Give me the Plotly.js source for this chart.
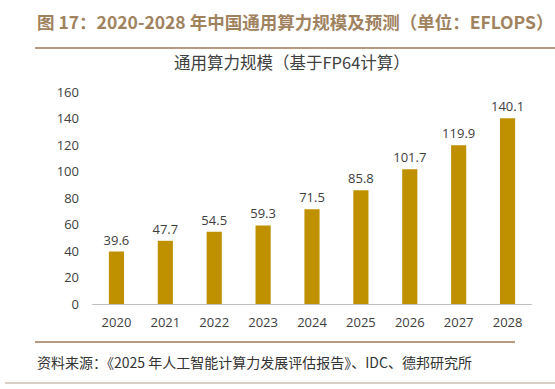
<!DOCTYPE html>
<html><head><meta charset="utf-8">
<script src="https://cdn.plot.ly/plotly-3.0.1.min.js"></script>
<style>html,body{margin:0;padding:0;background:#fff;}#c{width:555px;height:389px;}</style>
</head><body><div id="c"></div>
<script>
const years = ["2020","2021","2022","2023","2024","2025","2026","2027","2028"];
const values = [39.6, 47.7, 54.5, 59.3, 71.5, 85.8, 101.7, 119.9, 140.1];
const yTicks = [0,20,40,60,80,100,120,140,160];

const W=555,H=389, L=92, R=23, T=92, B=85;
const pw=W-L-R, ph=H-T-B;
const px=x=>(x-L)/pw, py=y=>(H-B-y)/ph;
const cjk='"Noto Sans CJK SC","Noto Sans",sans-serif';
const lat='"Open Sans","Noto Sans CJK SC",sans-serif';

const data=[{type:'bar',x:years,y:values,marker:{color:'#BF9000'},
  text:values.map(v=>v.toFixed(1)),textposition:'outside',cliponaxis:false,constraintext:'none',
  textfont:{family:lat,size:13,color:'#404040'},hoverinfo:'none'}];

const layout={width:W,height:H,margin:{l:L,r:R,t:T,b:B},paper_bgcolor:'#fff',plot_bgcolor:'#fff',
  bargap:0.69,showlegend:false,
  xaxis:{type:'category',showline:true,linecolor:'#BFBFBF',linewidth:1,ticks:'',ticklabelstandoff:6,
    tickfont:{family:lat,size:13,color:'#404040'},showgrid:false,zeroline:false},
  yaxis:{range:[0,160],tickvals:yTicks,showgrid:false,zeroline:false,showline:false,
    tickfont:{family:lat,size:13,color:'#404040'},ticklabelstandoff:12},
  annotations:[
    {text:'<b>图 17：2020-2028 年中国通用算力规模及预测（单位：EFLOPS）</b>',xref:'paper',yref:'paper',
     x:px(35),y:py(22),xanchor:'left',yanchor:'middle',showarrow:false,
     font:{family:cjk,size:17.5,color:'#A0825F'}},
    {text:'通用算力规模（基于FP64计算）',xref:'paper',yref:'paper',x:px(292),y:py(62),
     xanchor:'center',yanchor:'middle',showarrow:false,font:{family:cjk,size:16.5,color:'#404040'}},
    {text:'资料来源：《2025 年人工智能计算力发展评估报告》、IDC、德邦研究所',xref:'paper',yref:'paper',
     x:px(35),y:py(362),xanchor:'left',yanchor:'middle',showarrow:false,
     font:{family:cjk,size:14,color:'#333333'}}
  ],
  shapes:[
    {type:'line',xref:'paper',yref:'paper',x0:px(35),x1:px(555),y0:py(48),y1:py(48),line:{color:'#A0785A',width:1.5}},
    {type:'line',xref:'paper',yref:'paper',x0:px(35),x1:px(515),y0:py(342),y1:py(342),line:{color:'#A0785A',width:1.5}},
    {type:'line',xref:'paper',yref:'paper',x0:px(5),x1:px(555),y0:py(383),y1:py(383),line:{color:'#B8A090',width:1}}
  ]};
Plotly.newPlot('c',data,layout,{staticPlot:true,displayModeBar:false});
</script></body></html>
